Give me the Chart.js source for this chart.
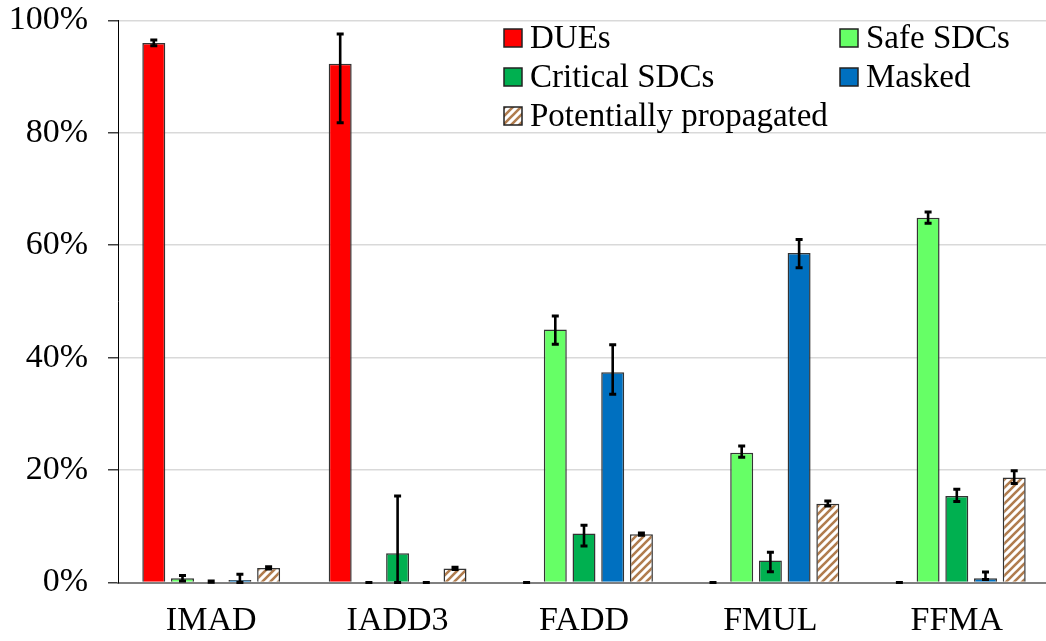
<!DOCTYPE html>
<html>
<head>
<meta charset="utf-8">
<script src="https://cdn.jsdelivr.net/npm/chart.js@4"></script>
<style>
  html, body { margin: 0; padding: 0; background: #fff; overflow: hidden; }
  #wrap { width: 1060px; height: 661px; position: relative; margin-top: -20px; }
</style>
</head>
<body>
<div id="wrap"><canvas id="chart"></canvas></div>
<script>
// --- DADOS ---
const categorias = ['IMAD', 'IADD3', 'FADD', 'FMUL', 'FFMA'];

const dues = [96.0, 92.3, 0, 0, 0];
const duesErrUp = [0.5, 5.3, 0, 0, 0];
const duesErrDown = [0.5, 10.5, 0, 0, 0];

const safeSdcs = [0.75, 0, 45.0, 23.1, 64.9];
const safeErrUp = [0.5, 0, 2.4, 1.2, 1.0];
const safeErrDown = [0.5, 0, 2.6, 0.8, 1.0];

const criticalSdcs = [0.15, 5.2, 8.7, 3.9, 15.4];
const criticalErrUp = [0.1, 10.2, 1.5, 1.5, 1.2];
const criticalErrDown = [0.1, 5.2, 2.2, 2.0, 1.0];

const masked = [0.45, 0, 37.4, 58.6, 0.75];
const maskedErrUp = [1.0, 0, 4.9, 2.4, 1.1];
const maskedErrDown = [0.45, 0, 3.9, 2.6, 0.2];

const potentially = [2.6, 2.5, 8.6, 14.0, 18.7];
const potErrUp = [0.2, 0.2, 0.2, 0.5, 1.2];
const potErrDown = [0.2, 0.2, 0.2, 0.4, 1.1];

const yTicks = [0, 20, 40, 60, 80, 100];

const fonte = '"Liberation Serif", "Times New Roman", serif';
Chart.defaults.font.family = fonte;
Chart.defaults.font.size = 34;
Chart.defaults.color = '#000';

// deslocamento vertical do canvas (compensa o padding automático do topo)
const desloc = 20;

// padrão hachurado (diagonal marrom)
function makeHatch() {
    const c = document.createElement('canvas');
    c.width = 8; c.height = 8;
    const g = c.getContext('2d');
    g.fillStyle = '#fff';
    g.fillRect(0, 0, 8, 8);
    g.strokeStyle = '#B07C4E';
    g.lineWidth = 2.6;
    g.beginPath();
    g.moveTo(-2, 10); g.lineTo(10, -2);
    g.moveTo(-6, 6); g.lineTo(6, -6);
    g.moveTo(2, 14); g.lineTo(14, 2);
    g.stroke();
    return g.createPattern(c, 'repeat');
}
const hatch = makeHatch();

const borda = '#333';
const datasets = [
    { label: 'DUEs', data: dues, errUp: duesErrUp, errDown: duesErrDown, backgroundColor: '#FF0000' },
    { label: 'Safe SDCs', data: safeSdcs, errUp: safeErrUp, errDown: safeErrDown, backgroundColor: '#66FF66' },
    { label: 'Critical SDCs', data: criticalSdcs, errUp: criticalErrUp, errDown: criticalErrDown, backgroundColor: '#00B050' },
    { label: 'Masked', data: masked, errUp: maskedErrUp, errDown: maskedErrDown, backgroundColor: '#0070C0' },
    { label: 'Potentially propagated', data: potentially, errUp: potErrUp, errDown: potErrDown, backgroundColor: hatch }
].map(d => ({
    ...d,
    borderColor: borda,
    borderWidth: 1.5,
    borderSkipped: 'start',
    categoryPercentage: 0.77,
    barPercentage: 0.8
}));

// barras de erro
const errorBars = {
    id: 'errorBars',
    afterDatasetsDraw(chart) {
        const ctx = chart.ctx;
        const y = chart.scales.y;
        ctx.save();
        ctx.strokeStyle = '#000';
        chart.data.datasets.forEach((ds, i) => {
            const meta = chart.getDatasetMeta(i);
            meta.data.forEach((bar, j) => {
                const v = ds.data[j];
                const top = y.getPixelForValue(v + ds.errUp[j]);
                const bot = y.getPixelForValue(Math.max(0, v - ds.errDown[j]));
                const x = bar.x;
                ctx.lineWidth = 2.6;
                ctx.beginPath();
                ctx.moveTo(x, top); ctx.lineTo(x, bot);
                ctx.stroke();
                ctx.lineWidth = 3;
                ctx.beginPath();
                ctx.moveTo(x - 3.5, top); ctx.lineTo(x + 3.5, top);
                ctx.moveTo(x - 3.5, bot); ctx.lineTo(x + 3.5, bot);
                ctx.stroke();
            });
        });
        ctx.restore();
    }
};

// legenda em duas colunas dentro da área do gráfico
const legendaInterna = {
    id: 'legendaInterna',
    afterDraw(chart) {
        const ctx = chart.ctx;
        const cols = [504, 840];
        const rows = [38, 77, 116].map(r => r + desloc);
        ctx.save();
        ctx.fillStyle = '#fff';
        ctx.fillRect(497, 23 + desloc, 560, 103);
        ctx.font = '33px ' + fonte;
        ctx.textBaseline = 'middle';
        chart.data.datasets.forEach((ds, i) => {
            const x = cols[i % 2];
            const yc = rows[Math.floor(i / 2)];
            ctx.fillStyle = ds.backgroundColor;
            ctx.fillRect(x, yc - 9, 18, 18);
            ctx.strokeStyle = '#222';
            ctx.lineWidth = 1.5;
            ctx.strokeRect(x, yc - 9, 18, 18);
            ctx.fillStyle = '#000';
            ctx.fillText(ds.label, x + 26, yc + 1);
        });
        ctx.restore();
    }
};

new Chart(document.getElementById('chart'), {
    type: 'bar',
    data: { labels: categorias, datasets },
    options: {
        responsive: true,
        maintainAspectRatio: false,
        animation: false,
        layout: { padding: { top: 0, right: 10, left: 0, bottom: 0 } },
        plugins: {
            legend: { display: false },
            tooltip: { enabled: false }
        },
        scales: {
            x: {
                grid: { display: false, drawTicks: false },
                border: { color: '#808080', width: 2 },
                ticks: { padding: 18, color: '#000', font: { size: 34 } },
                afterFit: (s) => { s.height = 58.5; }
            },
            y: {
                min: 0,
                max: 100,
                afterBuildTicks: (s) => { s.ticks = yTicks.map(v => ({ value: v })); },
                grid: { color: '#D9D9D9', lineWidth: 1.5, tickLength: 10, tickColor: '#404040' },
                border: { color: '#000', width: 1 },
                ticks: { padding: 20, color: '#000', font: { size: 34 }, callback: (v) => v + '%' },
                afterFit: (s) => { s.width = 118; }
            }
        }
    },
    plugins: [errorBars, legendaInterna]
});
</script>
</body>
</html>
